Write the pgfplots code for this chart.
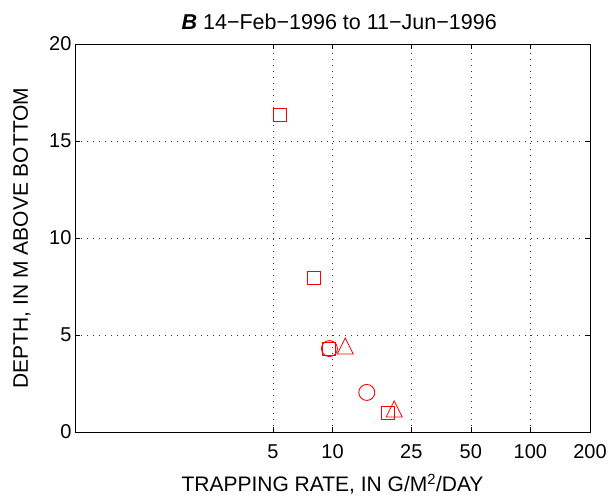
\documentclass[border=0pt]{standalone}
\usepackage{fontspec}
\setmainfont{Liberation Sans}
\usepackage{pgfplots}
\pgfplotsset{compat=1.18}
\pgfdeclareplotmark{mtri}{%
 \pgfpathmoveto{\pgfqpoint{0pt}{\pgfplotmarksize}}%
 \pgfpathlineto{\pgfqpoint{-\pgfplotmarksize}{-\pgfplotmarksize}}%
 \pgfpathlineto{\pgfqpoint{\pgfplotmarksize}{-\pgfplotmarksize}}%
 \pgfpathclose\pgfusepathqstroke}
\begin{document}
\begin{tikzpicture}
\path[use as bounding box] (0,0) rectangle (613pt,497pt);
\begin{axis}[
 at={(75pt,65pt)}, anchor=south west,
 scale only axis, width=515pt, height=388pt,
 xmode=log, xmin=0.5, xmax=200, ymin=0, ymax=20,
 xtick={5,10,25,50,100,200}, xticklabels={5,10,25,50,100,200},
 ytick={0,5,10,15,20},
 xminorticks=false, xminorgrids=false,
 grid=major,
 major grid style={black!80, line width=0.6pt, dash pattern=on 0.8pt off 5.2pt},
 tick align=inside, major tick length=5pt,
 axis line style={black, line width=0.8pt},
 tick style={black, line width=0.6pt},
 /pgf/number format/assume math mode=true,
 tick label style={font=\fontsize{20}{24}\selectfont},
 xticklabel style={yshift=-9pt},
 label style={font=\fontsize{21}{25}\selectfont},
 title style={font=\fontsize{21.5}{25}\selectfont, at={(axis description cs:0.513,1.021)}, anchor=base},
 xlabel style={at={(axis description cs:0.5,-0.1546)}, anchor=base},
 ylabel style={at={(axis description cs:-0.103,0.5)}, anchor=center},
 title={{\bfseries\itshape B} 14−Feb−1996 to 11−Jun−1996},
 xlabel={TRAPPING RATE, IN G/M\textsuperscript{2}/DAY},
 ylabel={DEPTH, IN M ABOVE BOTTOM},
]
\addplot[only marks, red, mark=square, mark size=6.5pt, mark options={line width=0.8pt}]
 coordinates {(5.41,16.34) (8.07,7.94) (9.6,4.30) (19.05,1.0)};
\addplot[only marks, red, mark=o, mark size=8pt, mark options={line width=0.9pt}]
 coordinates {(9.65,4.30) (14.9,2.04)};
\addplot[only marks, red, mark=mtri, mark size=8pt, mark options={line width=0.8pt}]
 coordinates {(11.6,4.43) (20.5,1.19)};
\end{axis}
\end{tikzpicture}
\end{document}
